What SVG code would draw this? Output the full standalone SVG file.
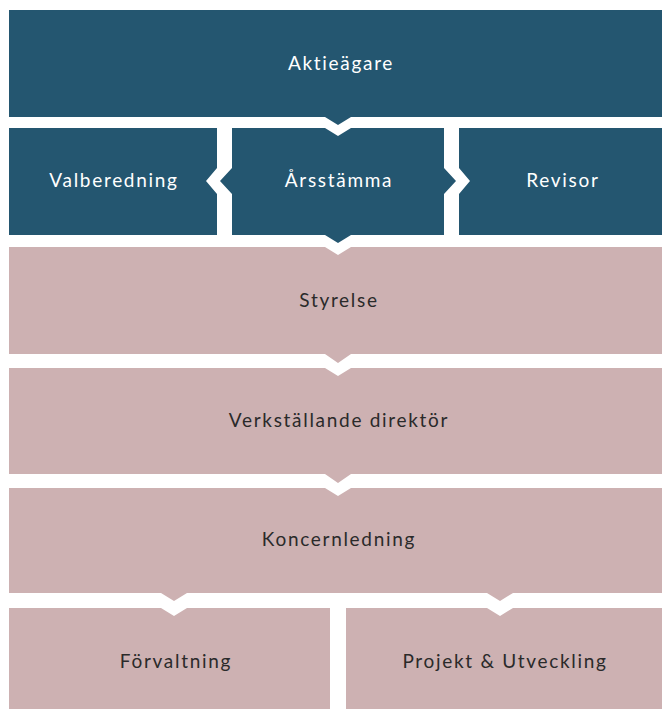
<svg xmlns="http://www.w3.org/2000/svg" width="662" height="709" viewBox="0 0 662 709">
<style>
.dark{fill:#245670}
.pink{fill:#cdb1b2}
text{font-family:Lato,"Noto Sans","DejaVu Sans",sans-serif;font-size:19px;letter-spacing:1.7px;text-anchor:middle;dominant-baseline:central}
.lt{fill:#ffffff}
.dt{fill:#2a2a2a}
</style>
<rect width="662" height="709" fill="#ffffff"/>
<g id="aktieagare">
<path class="dark" d="M9,10 H662 V117 H351 L338,125 L325,117 H9 Z"/>
<text class="lt" x="341" y="62">Aktieägare</text>
</g>
<g id="valberedning">
<path class="dark" d="M9,128 H217 V168 L206,181 L217,194 V235 H9 Z"/>
<text class="lt" x="114" y="179">Valberedning</text>
</g>
<g id="arsstamma">
<path class="dark" d="M232,128 H325 L338,136 L351,128 H444 V168 L456,181 L444,194 V235 H351 L338,243 L325,235 H232 V194 L220,181 L232,168 Z"/>
<text class="lt" x="339" y="179">Årsstämma</text>
</g>
<g id="revisor">
<path class="dark" d="M459,128 H662 V235 H459 V194 L470,181 L459,168 Z"/>
<text class="lt" x="563" y="179">Revisor</text>
</g>
<g id="styrelse">
<path class="pink" d="M9,247 H325 L338,255 L351,247 H662 V354 H351 L338,363 L325,354 H9 Z"/>
<text class="dt" x="339" y="299">Styrelse</text>
</g>
<g id="vd">
<path class="pink" d="M9,368 H325 L338,376 L351,368 H662 V474 H351 L338,483 L325,474 H9 Z"/>
<text class="dt" x="339" y="419">Verkställande direktör</text>
</g>
<g id="koncernledning">
<path class="pink" d="M9,488 H325 L338,496 L351,488 H662 V593 H513 L500,601 L487,593 H187 L174,601 L161,593 H9 Z"/>
<text class="dt" x="339" y="538">Koncernledning</text>
</g>
<g id="forvaltning">
<path class="pink" d="M9,608 H161 L174,616 L187,608 H330 V709 H9 Z"/>
<text class="dt" x="176" y="660">Förvaltning</text>
</g>
<g id="projekt">
<path class="pink" d="M346,608 H487 L500,616 L513,608 H662 V709 H346 Z"/>
<text class="dt" x="505" y="660">Projekt &amp; Utveckling</text>
</g>
<g id="connectors"/>
</svg>
